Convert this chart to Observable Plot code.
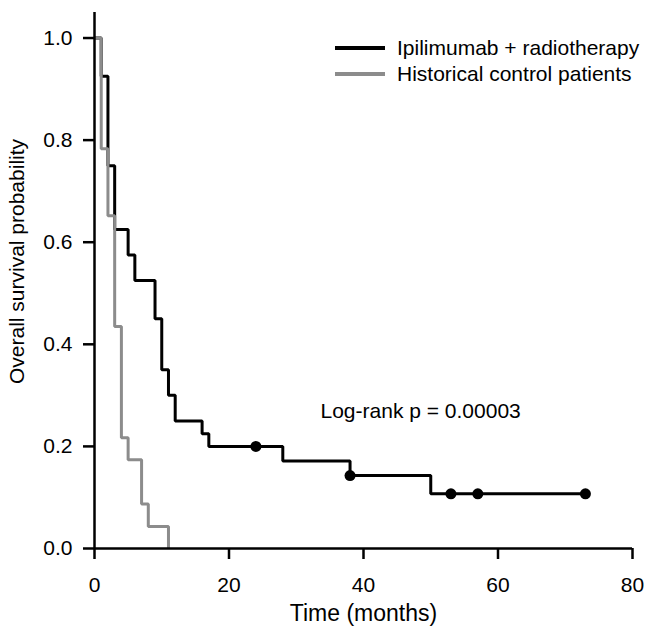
<!DOCTYPE html>
<html><head><meta charset="utf-8">
<script src="https://cdn.jsdelivr.net/npm/d3@7"></script>
<script src="https://cdn.jsdelivr.net/npm/@observablehq/plot@0.6"></script>
<style>
body{margin:0;background:#fff}
#chart{position:relative;width:646px;height:634px}
</style>
</head><body><div id="chart"></div>
<script>
const seriesNames = ["Ipilimumab + radiotherapy", "Historical control patients"];
const seriesColors = ["#000000", "#8c8c8c"];
const ipiTimes = [0, 1, 2, 3, 5, 6, 9, 10, 11, 12, 16, 17, 28, 38, 50, 73];
const ipiSurvival = [1, 0.925, 0.75, 0.625, 0.575, 0.525, 0.45, 0.35, 0.30, 0.25, 0.225, 0.2, 0.1714, 0.1429, 0.1071, 0.1071];
const ctrlTimes = [0, 1, 2, 3, 4, 5, 7, 8, 11];
const ctrlSurvival = [1, 0.783, 0.652, 0.435, 0.217, 0.174, 0.087, 0.043, 0];
const censorTimes = [24, 38, 53, 57, 73];
const censorSurvival = [0.2, 0.1429, 0.1071, 0.1071, 0.1071];
const xTicks = [0, 20, 40, 60, 80];
const yTicks = [0, 0.2, 0.4, 0.6, 0.8, 1.0];
const xDomain = [0, 80];
const yDomain = [0, 1.05];
const xLabel = "Time (months)";
const yLabel = "Overall survival probability";
const pValueText = "Log-rank p = 0.00003";

const ipi = ipiTimes.map((t, i) => ({t, s: ipiSurvival[i], group: seriesNames[0]}));
const ctrl = ctrlTimes.map((t, i) => ({t, s: ctrlSurvival[i], group: seriesNames[1]}));
const censors = censorTimes.map((t, i) => ({t, s: censorSurvival[i]}));

const font = "'Liberation Sans', Arial, Helvetica, sans-serif";

const chart = Plot.plot({
  width: 646,
  height: 634,
  marginLeft: 94,
  marginRight: 14,
  marginTop: 12,
  marginBottom: 86,
  style: {fontFamily: font, fontSize: "21px", color: "#000", background: "#fff", overflow: "visible"},
  x: {domain: xDomain},
  y: {domain: yDomain},
  marks: [
    Plot.line(ipi, {x: "t", y: "s", curve: "step-after", stroke: seriesColors[0], strokeWidth: 3, strokeLinejoin: "miter", strokeLinecap: "butt"}),
    Plot.line(ctrl, {x: "t", y: "s", curve: "step-after", stroke: seriesColors[1], strokeWidth: 3, strokeLinejoin: "miter", strokeLinecap: "butt"}),
    Plot.dot(censors, {x: "t", y: "s", r: 5.5, fill: seriesColors[0], stroke: "none"}),
    Plot.ruleX([0], {stroke: "#000", strokeWidth: 2.5}),
    Plot.ruleY([0], {stroke: "#000", strokeWidth: 2.5}),
    Plot.axisX({ticks: xTicks, tickSize: 11, tickPadding: 18, strokeWidth: 2.5, label: null, fontSize: 21}),
    Plot.axisY({ticks: yTicks, tickSize: 11, tickPadding: 11, strokeWidth: 2.5, tickFormat: d3.format(".1f"), label: null, fontSize: 21}),
    Plot.text([xLabel], {text: d => d, frameAnchor: "bottom", textAnchor: "middle", dy: 72, fontSize: 23}),
    Plot.text([yLabel], {text: d => d, frameAnchor: "left", textAnchor: "middle", rotate: -90, dx: -77, dy: -19, fontSize: 21}),
    Plot.text([pValueText], {text: d => d, frameAnchor: "top-left", textAnchor: "start", dx: 226, dy: 391, fontSize: 21})
  ]
});

document.getElementById("chart").appendChild(chart);

// Legend drawn inside the SVG
const svg = d3.select(chart);
const legend = svg.append("g").attr("font-family", font).attr("font-size", 21).attr("text-anchor", "start");
seriesNames.forEach((name, i) => {
  const y = 48 + i * 26;
  legend.append("line").attr("x1", 335).attr("x2", 385).attr("y1", y).attr("y2", y)
    .attr("stroke", seriesColors[i]).attr("stroke-width", 4);
  legend.append("text").attr("x", 397).attr("y", y).attr("dy", "0.35em").attr("fill", "#000").text(name);
});
</script>
</body></html>
